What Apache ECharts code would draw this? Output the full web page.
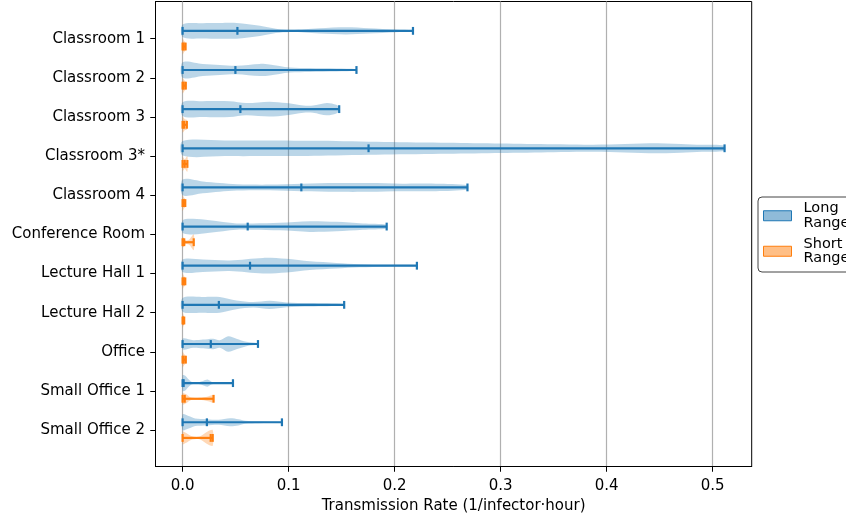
<!DOCTYPE html>
<html><head><meta charset="utf-8">
<script src="https://cdn.jsdelivr.net/npm/echarts@6/dist/echarts.min.js"></script>
<style>html,body{margin:0;padding:0;background:#fff}#c{width:846px;height:517px}</style>
</head><body><div id="c"></div>
<script>
const categories = ['Classroom 1','Classroom 2','Classroom 3','Classroom 3*','Classroom 4','Conference Room','Lecture Hall 1','Lecture Hall 2','Office','Small Office 1','Small Office 2'];
const xTicks = [0, 0.1, 0.2, 0.3, 0.4, 0.5];

const longMin    = [0,0,0,0,0,0,0,0,0,0,0];
const longMedian = [0.0517,0.0498,0.0545,0.1754,0.112,0.0614,0.0636,0.0342,0.0266,0.001,0.0229];
const longMax    = [0.2173,0.164,0.1477,0.5112,0.2687,0.1925,0.221,0.1524,0.0711,0.0475,0.0937];

const shortMin    = [0,0,0,0,0,0,0,0,0,0,0];
const shortMedian = [0.001,0.001,0.0015,0.002,0.001,0.0015,0.001,0.0005,0.001,0.002,0.0265];
const shortMax    = [0.0028,0.003,0.004,0.0045,0.0025,0.0105,0.0025,0.0015,0.003,0.0292,0.0284];

// violin outlines: [value, relative half-width]
const longShapes = [
  [[0,0.8],[0.019,0.97],[0.035,1.0],[0.051,1.0],[0.073,0.66],[0.088,0.28],[0.101,0.14],[0.115,0.2],[0.129,0.34],[0.154,0.46],[0.176,0.34],[0.201,0.17],[0.2173,0.08]],
  [[0,1.0],[0.019,0.78],[0.035,0.64],[0.051,0.55],[0.073,0.78],[0.082,0.7],[0.101,0.32],[0.12,0.24],[0.145,0.18],[0.164,0.1]],
  [[0,0.87],[0.019,1.0],[0.0445,1.0],[0.06,0.78],[0.082,0.95],[0.098,0.78],[0.114,0.45],[0.123,0.45],[0.136,0.78],[0.145,0.55],[0.1477,0.25]],
  [[0,0.92],[0.04,1.0],[0.08,1.0],[0.13,0.95],[0.19,0.8],[0.25,0.7],[0.3,0.6],[0.35,0.5],[0.38,0.45],[0.41,0.52],[0.44,0.64],[0.47,0.56],[0.49,0.45],[0.5112,0.33]],
  [[0,1.0],[0.019,0.76],[0.035,0.55],[0.051,0.4],[0.082,0.36],[0.113,0.48],[0.145,0.56],[0.176,0.56],[0.207,0.48],[0.239,0.48],[0.2687,0.28]],
  [[0,0.8],[0.0098,1.0],[0.0255,0.8],[0.0508,0.4],[0.0665,0.4],[0.0916,0.48],[0.12,0.68],[0.145,0.6],[0.17,0.4],[0.1925,0.24]],
  [[0,0.8],[0.019,0.8],[0.0445,0.68],[0.0759,1.0],[0.0979,0.88],[0.12,0.56],[0.145,0.36],[0.167,0.2],[0.192,0.12],[0.221,0.08]],
  [[0,0.87],[0.019,1.0],[0.035,1.0],[0.0508,0.56],[0.0665,0.35],[0.082,0.52],[0.098,0.3],[0.12,0.22],[0.1524,0.09]],
  [[0,0.68],[0.01,0.48],[0.0194,0.56],[0.0288,0.68],[0.0351,0.48],[0.0429,1.0],[0.0508,0.68],[0.0602,0.28],[0.0711,0.08]],
  [[0,1.0],[0.0025,0.95],[0.0056,0.5],[0.0088,0.15],[0.015,0.12],[0.0197,0.3],[0.0235,0.45],[0.0276,0.15],[0.034,0.07],[0.0475,0.05]],
  [[0,1.0],[0.0056,0.8],[0.0119,0.48],[0.0229,0.4],[0.0339,0.32],[0.0448,0.52],[0.0527,0.4],[0.059,0.2],[0.0715,0.12],[0.0937,0.06]]
];
const shortShapes = [
  [[0,1.0],[0.0014,0.7],[0.0028,0.5]],
  [[0,1.0],[0.0015,0.7],[0.003,0.5]],
  [[0,1.0],[0.002,0.7],[0.004,0.6]],
  [[0,0.9],[0.002,0.6],[0.0045,1.0]],
  [[0,1.0],[0.0012,0.7],[0.0025,0.5]],
  [[0,0.7],[0.003,0.25],[0.006,0.3],[0.0105,1.0]],
  [[0,1.0],[0.0012,0.7],[0.0025,0.5]],
  [[0,1.0],[0.0008,0.7],[0.0015,0.5]],
  [[0,1.0],[0.0015,0.7],[0.003,0.5]],
  [[0,0.72],[0.003,0.6],[0.008,0.15],[0.016,0.12],[0.024,0.3],[0.0292,0.45]],
  [[0,0.8],[0.003,0.65],[0.009,0.2],[0.016,0.18],[0.024,0.85],[0.0284,1.0]]
];

const HALF = 0.2, OFFSET = 0.2, CAP = 0.1;
const FONT = 'DejaVu Sans';
const FS = 15;

function makeRender(shapes, offset, fill, stroke) {
  return function (params, api) {
    const i = api.value(0);
    const mn = api.value(1), md = api.value(2), mx = api.value(3);
    const pos = i + offset;
    const shape = shapes[i];
    const top = shape.map(p => api.coord([p[0], pos - p[1] * HALF]));
    const bot = shape.slice().reverse().map(p => api.coord([p[0], pos + p[1] * HALF]));
    const ls = { stroke: stroke, lineWidth: 2.2 };
    const seg = (a, b) => ({ type: 'line', shape: { x1: a[0], y1: a[1], x2: b[0], y2: b[1] }, style: ls });
    return {
      type: 'group',
      children: [
        { type: 'polygon', shape: { points: top.concat(bot), smooth: 0.3 }, style: { fill: fill } },
        seg(api.coord([mn, pos]), api.coord([mx, pos])),
        seg(api.coord([mn, pos - CAP]), api.coord([mn, pos + CAP])),
        seg(api.coord([mx, pos - CAP]), api.coord([mx, pos + CAP])),
        seg(api.coord([md, pos - CAP]), api.coord([md, pos + CAP]))
      ]
    };
  };
}

const chart = echarts.init(document.getElementById('c'), null, { renderer: 'canvas' });
chart.setOption({
  animation: false,
  backgroundColor: '#fff',
  textStyle: { fontFamily: FONT },
  grid: { left: 155.5, right: 94.3, top: 1.5, bottom: 50.5, show: true, borderColor: '#000', borderWidth: 1, backgroundColor: 'transparent', containLabel: false, outerBoundsMode: 'none' },
  xAxis: {
    type: 'value', min: -0.02556, max: 0.5368,
    axisLine: { show: true, onZero: false, lineStyle: { color: '#000', width: 1 } },
    axisTick: { show: true, customValues: xTicks, length: 5.25, lineStyle: { color: '#000', width: 1 } },
    axisLabel: { customValues: xTicks, formatter: v => v.toFixed(1), color: '#000', fontSize: FS, fontFamily: FONT, margin: 12 },
    splitLine: { show: true, lineStyle: { color: '#b0b0b0', width: 1.2 } },
    name: 'Transmission Rate (1/infector·hour)', nameLocation: 'middle', nameGap: 32.5,
    nameTextStyle: { color: '#000', fontSize: FS, fontFamily: FONT }
  },
  yAxis: {
    type: 'value', inverse: true, min: -0.95, max: 10.93,
    axisLine: { show: true, onZero: false, lineStyle: { color: '#000', width: 1 } },
    axisTick: { show: true, customValues: categories.map((c, i) => i), length: 5.25, lineStyle: { color: '#000', width: 1 } },
    axisLabel: { customValues: categories.map((c, i) => i), formatter: v => categories[Math.round(v)], color: '#000', fontSize: FS, fontFamily: FONT, margin: 10.5 },
    splitLine: { show: false }
  },
  legend: {
    left: 758, top: 197, orient: 'vertical', padding: [4, 8, 6, 5], itemGap: 6,
    itemWidth: 28, itemHeight: 10, borderColor: '#444', borderWidth: 1, borderRadius: 4,
    selectedMode: false,
    data: [
      { name: 'Long Range', icon: 'rect', itemStyle: { color: 'rgba(31,119,180,0.5)', borderColor: '#1f77b4', borderWidth: 1 } },
      { name: 'Short Range', icon: 'rect', itemStyle: { color: 'rgba(255,127,14,0.5)', borderColor: '#ff7f0e', borderWidth: 1 } }
    ],
    formatter: n => n.replace(' ', '\n'),
    textStyle: { fontSize: 14.5, lineHeight: 14.5, fontFamily: FONT, color: '#000', padding: [0, 0, 0, 7] }
  },
  series: [
    {
      name: 'Long Range', type: 'custom', color: '#1f77b4',
      renderItem: makeRender(longShapes, -OFFSET, 'rgba(31,119,180,0.3)', '#1f77b4'),
      encode: { x: [1, 2, 3], y: 0 },
      data: categories.map((c, i) => [i, longMin[i], longMedian[i], longMax[i]])
    },
    {
      name: 'Short Range', type: 'custom', color: '#ff7f0e',
      renderItem: makeRender(shortShapes, OFFSET, 'rgba(255,127,14,0.3)', '#ff7f0e'),
      encode: { x: [1, 2, 3], y: 0 },
      data: categories.map((c, i) => [i, shortMin[i], shortMedian[i], shortMax[i]])
    }
  ]
});
</script>
</body></html>
